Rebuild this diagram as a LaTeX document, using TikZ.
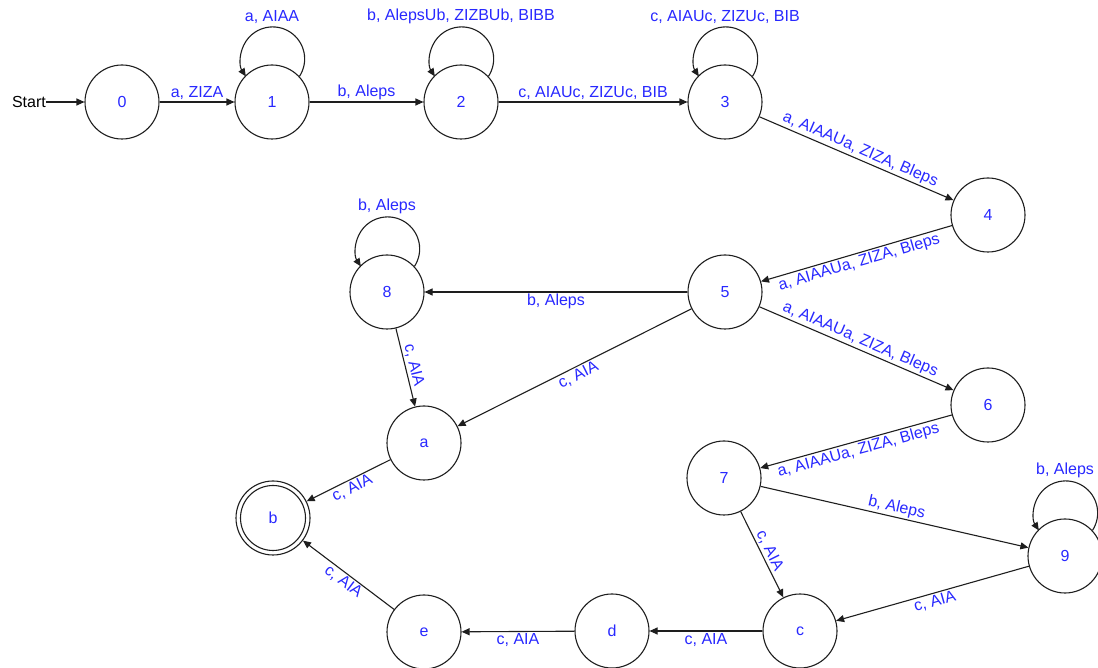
\documentclass[tikz,border=0pt]{standalone}
\usepackage{fontspec}
\setmainfont{Liberation Sans}
\usetikzlibrary{arrows.meta}
\definecolor{lblue}{RGB}{40,40,255}
\definecolor{ln}{RGB}{30,30,30}
\begin{document}
\begin{tikzpicture}[x=1pt,y=1pt,
  state/.style={circle,draw=ln,line width=1.1pt,minimum size=74pt,inner sep=0pt,text=lblue,font=\fontsize{16}{18}\selectfont},
  accept/.style={state,path picture={\draw[ln,line width=1.1pt] (path picture bounding box.center) circle (32.5pt);}},
  tr/.style={draw=ln,line width=1.1pt,-{Triangle[length=8pt,width=7pt]}},
  lbl/.style={text=lblue,font=\fontsize{16}{18}\selectfont,inner sep=1.5pt},
  looplbl/.style={lbl,above,inner sep=2.5pt},
]
\useasboundingbox (0,0) rectangle (1098,667);
\clip (0,0) rectangle (1098,667);

\node[state] (n0) at (122,565) {0};
\node[state] (n1) at (272,565) {1};
\node[state] (n2) at (461,565) {2};
\node[state] (n3) at (725,565) {3};
\node[state] (n4) at (988,452) {4};
\node[state] (n5) at (725,375) {5};
\node[state] (n8) at (387,375) {8};
\node[state] (n6) at (988,262) {6};
\node[state] (na) at (424,224) {a};
\node[accept] (nb) at (273,149) {b};
\node[state] (n7) at (724,189) {7};
\node[state] (n9) at (1065,111) {9};
\node[state] (nc) at (800,36) {c};
\node[state] (nd) at (612,36) {d};
\node[state] (ne) at (424,35) {e};

\node[font=\fontsize{16}{18}\selectfont,inner sep=0pt,anchor=east] (start) at (46,565) {Start};
\draw[tr] (start) -- (n0);

% loops
\draw[tr] (n1.43.6) arc[start angle=-33.1, end angle=213.1, radius=32];
\path (n1.north) ++(0,38) node[looplbl] (l1) {a, AIAA};
\draw[tr] (n2.43.6) arc[start angle=-33.1, end angle=213.1, radius=32];
\path (n2.north) ++(0,38) node[looplbl] (l2) {b, AlepsUb, ZIZBUb, BIBB};
\draw[tr] (n3.43.6) arc[start angle=-33.1, end angle=213.1, radius=32];
\path (n3.north) ++(0,38) node[looplbl] (l3) {c, AIAUc, ZIZUc, BIB};
\draw[tr] (n8.43.6) arc[start angle=-33.1, end angle=213.1, radius=32];
\path (n8.north) ++(0,38) node[looplbl] (l8) {b, Aleps};
\draw[tr] (n9.43.6) arc[start angle=-33.1, end angle=213.1, radius=32];
\path (n9.north) ++(0,38) node[looplbl] (l9) {b, Aleps};

% edges
\draw[tr] (n0) -- node[lbl,above] {a, ZIZA} (n1);
\draw[tr] (n1) -- node[lbl,above] {b, Aleps} (n2);
\draw[tr] (n2) -- node[lbl,above] {c, AIAUc, ZIZUc, BIB} (n3);
\draw[tr] (n3) -- node[lbl,above,sloped] {a, AIAAUa, ZIZA, Bleps} (n4);
\draw[tr] (n4) -- node[lbl,below,sloped] {a, AIAAUa, ZIZA, Bleps} (n5);
\draw[tr] (n5) -- node[lbl,below] {b, Aleps} (n8);
\draw[tr] (n5) -- node[lbl,above,sloped] {a, AIAAUa, ZIZA, Bleps} (n6);
\draw[tr] (n6) -- node[lbl,below,sloped] {a, AIAAUa, ZIZA, Bleps} (n7);
\draw[tr] (n5) -- node[lbl,below,sloped] {c, AIA} (na);
\draw[tr] (n8) -- node[lbl,above,sloped] {c, AIA} (na);
\draw[tr] (na) -- node[lbl,below,sloped] {c, AIA} (nb);
\draw[tr] (ne) -- node[lbl,below,sloped] {c, AIA} (nb);
\draw[tr] (nd) -- node[lbl,below] {c, AIA} (ne);
\draw[tr] (nc) -- node[lbl,below] {c, AIA} (nd);
\draw[tr] (n9) -- node[lbl,below,sloped] {c, AIA} (nc);
\draw[tr] (n7) -- node[lbl,above,sloped] {b, Aleps} (n9);
\draw[tr] (n7) -- node[lbl,above,sloped] {c, AIA} (nc);
\end{tikzpicture}
\end{document}
